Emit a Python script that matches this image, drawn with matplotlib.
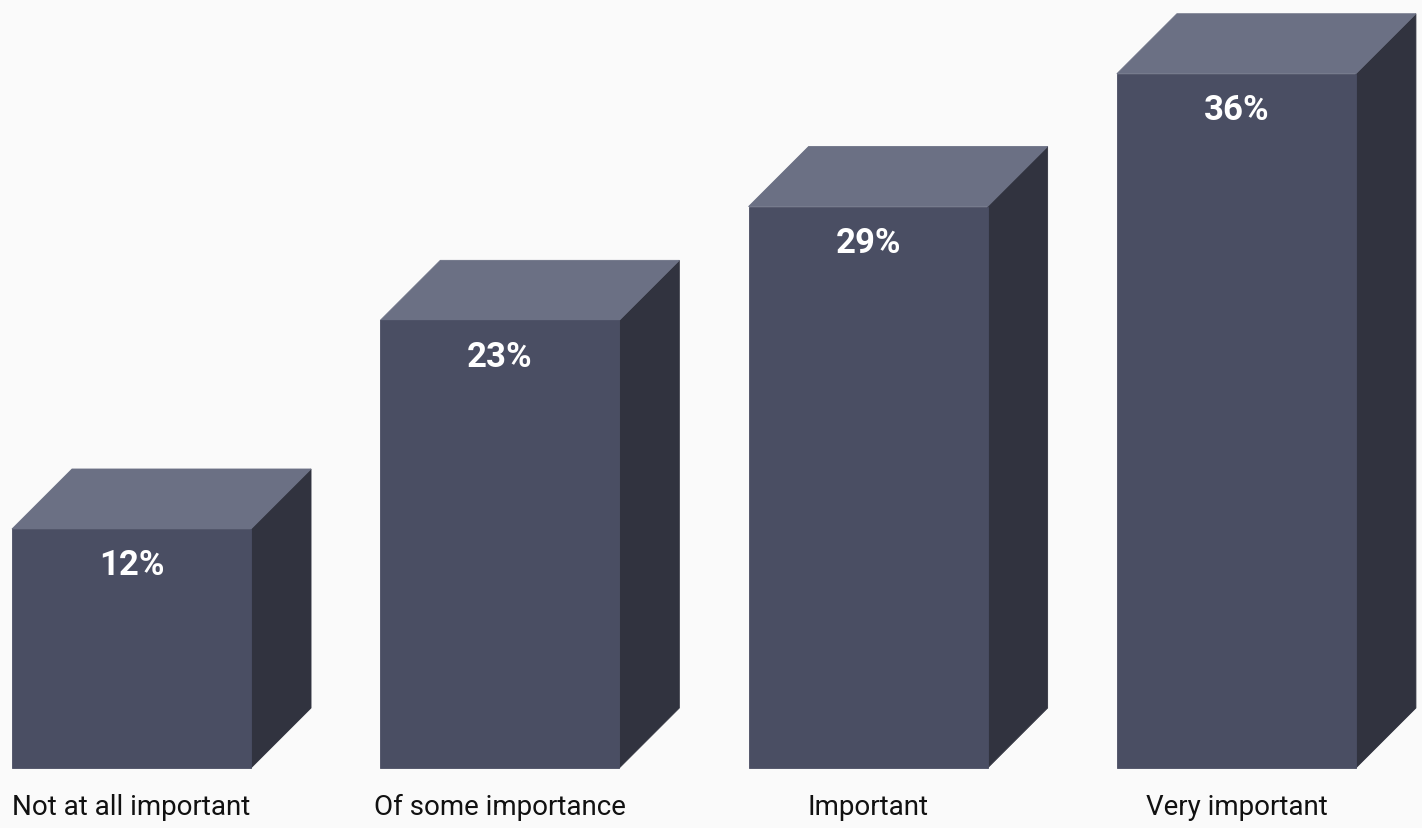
import numpy as np
import matplotlib.pyplot as plt
from matplotlib.patches import Polygon

# survey answers
categories = ['Not at all important', 'Of some importance', 'Important', 'Very important']
shares = [12, 23, 29, 36]
labels = ['12%', '23%', '29%', '36%']

front_col = '#4a4e63'
top_col = '#6b7084'
side_col = '#31333f'
bg = '#fafafa'

base = -0.6      # floor of the boxes
width = 0.649    # front face width (category units)
dx = 0.163       # depth in x
dy = 3.163       # depth in y

fig = plt.figure(figsize=(14.22, 8.29), dpi=100, facecolor=bg)
ax = fig.add_axes([0, 0, 1, 1])
ax.set_facecolor(bg)
ax.set_xlim(-0.357, 3.504)
ax.set_ylim(-3.763, 39.94)
ax.axis('off')


def face(pts, col):
    # same-colour edge hides the hairline seams between faces
    ax.add_patch(Polygon(pts, closed=True, facecolor=col, edgecolor=col,
                         linewidth=0.6, joinstyle='miter'))


x = np.arange(len(categories))
for i, v in zip(x, shares):
    x0 = i - width / 2
    x1 = i + width / 2
    face([(x1, base), (x1 + dx, base + dy), (x1 + dx, v + dy), (x1, v)], side_col)
    face([(x0, v), (x1, v), (x1 + dx, v + dy), (x0 + dx, v + dy)], top_col)
    face([(x0, base), (x1, base), (x1, v), (x0, v)], front_col)

for i, v, txt in zip(x, shares, labels):
    ax.annotate(txt, (i, v), textcoords='offset pixels', xytext=(0, -36),
                ha='center', va='center', color='white', fontsize=25,
                fontweight='bold', family='Roboto')

for i, name in zip(x, categories):
    ax.annotate(name, (i, base), textcoords='offset pixels', xytext=(0, -38),
                ha='center', va='center', color='#111111', fontsize=20,
                family='Roboto')

fig.savefig('out.png', dpi=100, facecolor=bg)
